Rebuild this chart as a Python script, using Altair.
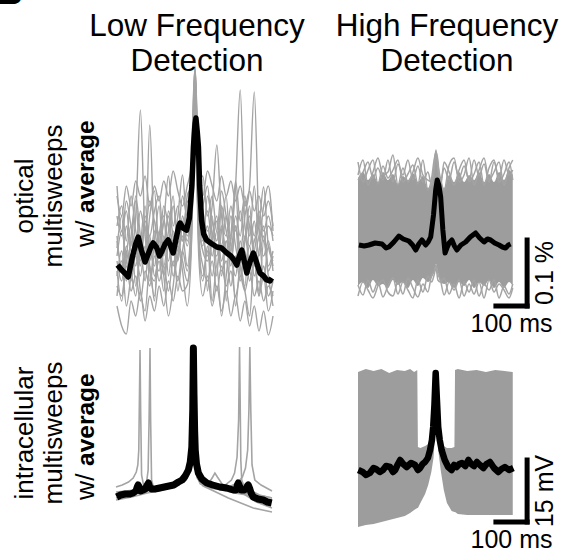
import altair as alt
import pandas as pd

# ---------------------------------------------------------------- data
# time axis of every panel in ms (spike-triggered, spike at 0)
# Optical, low-frequency detection: individual sweeps (dF/F, scaled units)
TL_T = [-250, -235, -220, -205, -190, -175, -160, -145, -130, -115, -100, -85, -70, -55, -40, -25,
        -12, -5, 0, 5, 12,
        25, 40, 55, 70, 85, 100, 115, 130, 145, 160, 175, 190, 205, 220, 235, 250]
TL_SWEEPS = {
    "s1": [95, 70, 110, 85, 120, 226, 100, 75, 105, 80, 115, 95, 130, 100, 140, 120,
           150, 210, 262, 215, 140,
           110, 125, 95, 115, 90, 120, 100, 150, 246, 110, 90, 115, 80, 100, 70, 85],
    "s2": [60, 85, 55, 95, 70, 100, 80, 211, 90, 65, 100, 75, 105, 85, 115, 95,
           140, 228, 270, 222, 135,
           95, 110, 80, 105, 75, 95, 70, 110, 85, 120, 150, 244, 110, 80, 95, 65],
    "s3": [120, 100, 135, 110, 90, 125, 105, 135, 115, 95, 130, 110, 95, 120, 161, 110,
           160, 240, 268, 235, 150,
           125, 105, 130, 191, 120, 100, 130, 105, 125, 95, 120, 100, 125, 105, 120, 95],
    "s4": [30, 10, 2, 35, 20, 45, 15, 40, 25, 50, 30, 55, 35, 60, 45, 51,
           90, 170, 240, 175, 80,
           40, 60, 30, 50, 25, 45, 20, 40, 15, 35, 10, 30, 5, 25, 1, 20],
    "s5": [80, 105, 75, 60, 95, 70, 120, 90, 70, 105, 80, 125, 100, 75, 110, 90,
           130, 200, 250, 200, 120,
           130, 150, 100, 80, 110, 85, 120, 90, 70, 100, 75, 95, 110, 149, 90, 75],
    "s6": [50, 40, 70, 45, 60, 35, 65, 50, 80, 55, 70, 45, 75, 55, 85, 65,
           110, 190, 255, 190, 100,
           70, 55, 75, 45, 70, 50, 65, 40, 60, 45, 65, 40, 55, 35, 50, 40],
    "s7": [140, 120, 150, 130, 155, 140, 160, 130, 150, 135, 155, 140, 165, 145, 130, 150,
           170, 235, 266, 230, 160,
           140, 165, 150, 135, 160, 140, 155, 135, 150, 130, 145, 125, 140, 120, 135, 110],
    "s8": [100, 65, 85, 55, 80, 60, 90, 65, 55, 85, 60, 90, 70, 95, 75, 55,
           100, 180, 245, 185, 95,
           60, 85, 60, 90, 65, 75, 50, 80, 55, 85, 55, 75, 45, 70, 40, 55],
    "s9": [110, 130, 95, 140, 105, 85, 115, 100, 125, 140, 95, 120, 85, 110, 95, 135,
           125, 205, 258, 210, 130,
           90, 140, 115, 95, 130, 105, 85, 120, 100, 135, 110, 85, 120, 95, 110, 100],
    "s10": [75, 55, 90, 65, 40, 85, 55, 100, 60, 75, 45, 90, 60, 80, 100, 70,
            120, 195, 252, 200, 110,
            85, 75, 100, 120, 60, 95, 80, 60, 95, 70, 90, 60, 85, 110, 65, 80],
    "s11": [88, 120, 60, 100, 135, 75, 110, 55, 95, 130, 70, 105, 140, 80, 120, 100,
            135, 215, 265, 215, 125,
            100, 80, 120, 70, 105, 140, 75, 110, 60, 95, 130, 70, 100, 55, 90, 70],
    "s12": [65, 35, 80, 110, 50, 90, 130, 70, 40, 100, 120, 60, 95, 45, 85, 110,
            115, 190, 248, 195, 105,
            120, 45, 95, 60, 130, 35, 100, 145, 70, 50, 110, 85, 40, 95, 60, 30],
    "s13": [150, 105, 125, 90, 140, 100, 75, 120, 145, 90, 115, 160, 110, 130, 95, 140,
            150, 220, 262, 225, 155,
            160, 120, 140, 105, 145, 120, 95, 155, 115, 140, 100, 150, 95, 130, 150, 105],
    "s14": [40, 75, 30, 60, 85, 45, 25, 70, 35, 95, 60, 20, 50, 90, 65, 30,
            85, 175, 238, 180, 90,
            55, 90, 35, 70, 20, 60, 95, 30, 70, 45, 20, 75, 40, 60, 25, 45],
}
TL_AVG_T = [-248, -235, -222, -214, -200, -190, -182, -172, -160, -150, -140, -134, -122, -114, -107,
            -96, -86, -78, -70, -60, -52, -48, -38, -27, -18, -10, -5, 0, 3, 7, 11, 15, 21, 28,
            37, 50, 70, 85, 102, 115, 125, 134, 142, 150, 158, 166, 176, 187, 196, 208, 220,
            230, 240, 246]
TL_AVG_V = [71, 66, 62, 59, 80, 92, 99, 86, 74, 82, 90, 93, 88, 80, 84,
            92, 96, 90, 83, 98, 110, 113, 108, 106, 118, 150, 189, 212, 218, 205, 189, 150, 116, 102,
            96, 93, 89, 88, 83, 80, 76, 71, 80, 86, 75, 63, 74, 83, 75, 63, 60,
            56, 55, 58]

# Optical, high-frequency detection: envelope of all sweeps, edge sweeps, average
TR_T = [-250, -234, -218, -202, -186, -170, -154, -138, -122, -106, -90, -74, -58, -42, -26, -14,
        -6, 0, 6, 14, 26, 42, 58, 74, 90, 106, 122, 138, 154, 170, 186, 202, 218, 234, 246]
TR_HI = [122, 128, 120, 126, 118, 128, 120, 126, 116, 124, 120, 127, 118, 124, 112, 120,
         135, 145, 135, 118, 112, 125, 118, 128, 118, 125, 120, 128, 118, 126, 118, 128, 120, 130, 125]
TR_LO = [14, 18, 12, 20, 14, 16, 12, 20, 15, 18, 12, 20, 14, 22, 18, 22,
         28, 36, 28, 18, 16, 18, 12, 18, 14, 20, 12, 18, 14, 20, 12, 18, 12, 18, 14]
TR_EDGE_SWEEPS = {
    "u1": [120, 128, 138, 122, 132, 120, 140, 118, 136, 125, 140, 120, 134, 118, 128, 115,
           135, 150, 130, 118, 132, 120, 138, 122, 134, 120, 140, 124, 136, 118, 138, 122, 140, 125, 130],
    "u2": [138, 118, 130, 140, 116, 134, 122, 130, 140, 118, 126, 135, 116, 140, 110, 122,
           140, 148, 140, 112, 138, 128, 115, 130, 140, 118, 126, 138, 115, 132, 140, 118, 126, 138, 120],
    "u3": [125, 140, 115, 128, 142, 125, 128, 145, 115, 132, 118, 128, 142, 125, 120, 118,
           130, 146, 135, 122, 110, 135, 142, 118, 125, 142, 115, 130, 142, 120, 128, 138, 115, 132, 140],
    "d1": [15, 5, 20, 8, 18, 3, 14, 22, 6, 18, 10, 2, 20, 8, 24, 18,
           25, 32, 20, 18, 22, 6, 16, 2, 18, 8, 20, 4, 16, 10, 20, 2, 14, 6, 16],
    "d2": [4, 18, 10, 2, 14, 20, 8, 4, 18, 6, 22, 12, 3, 16, 8, 25,
           28, 35, 26, 20, 5, 18, 10, 20, 4, 16, 6, 18, 2, 20, 8, 16, 10, 2, 12],
}
TR_AVG_T = [-247, -230, -215, -195, -173, -160, -151, -135, -119, -105, -87, -75, -65, -55, -45,
            -33, -25, -17, -8, -1, 4, 9, 15, 22, 29, 35, 42, 51, 59, 67, 80, 95, 110, 127, 140,
            154, 165, 175, 188, 202, 213, 223, 232, 239]
TR_AVG_V = [55, 54, 55, 57, 56, 52, 53, 58, 64, 61, 59, 55, 50, 56, 60,
            55, 58, 63, 85, 110, 120, 115, 103, 70, 47, 52, 57, 60, 54, 50, 55, 58, 63, 67, 62,
            58, 61, 60, 57, 55, 53, 52, 55, 56]

# Intracellular, low-frequency detection: a few sweeps (mV, scaled units) + average
BL_SWEEPS = {
    "a": ([-250, -230, -210, -195, -185, -180, -177, -175, -173, -171, -168, -160, -140, -120, -100,
           -80, -60, -40, -20, -10, -5, -2, 0, 3, 8, 15, 30, 60, 100, 140, 180, 220, 250],
          [33, 35, 38, 42, 48, 55, 70, 120, 170, 110, 45, 32, 30, 31, 32,
           33, 35, 38, 45, 55, 70, 110, 165, 80, 50, 40, 34, 32, 30, 28, 26, 24, 22]),
    "b": ([-250, -220, -190, -170, -160, -152, -147, -144, -141, -139, -136, -130, -110, -80, -50,
           -25, -10, -4, -2, 0, 3, 8, 20, 50, 90, 130, 170, 210, 250],
          [28, 29, 30, 31, 33, 38, 50, 100, 172, 100, 40, 33, 32, 33, 35,
           40, 55, 100, 165, 110, 60, 45, 36, 32, 30, 27, 25, 22, 20]),
    "c": ([-250, -200, -150, -100, -50, -20, -8, -3, -1, 1, 4, 10, 30, 70, 100, 120, 130, 138,
           143, 146, 148, 150, 153, 160, 180, 210, 250],
          [25, 28, 31, 33, 37, 48, 70, 140, 170, 100, 60, 44, 36, 33, 35, 40, 47, 63,
           100, 173, 120, 60, 40, 34, 30, 25, 22]),
    "d": ([-250, -200, -150, -100, -50, -20, -8, -3, -1, 1, 4, 10, 30, 70, 110, 140, 155, 165,
           172, 176, 179, 182, 186, 195, 215, 250],
          [22, 26, 29, 32, 36, 47, 68, 135, 168, 95, 58, 43, 35, 32, 33, 37, 43, 52,
           70, 110, 173, 110, 55, 40, 35, 29]),
    "e": ([-250, -200, -150, -100, -50, -20, -8, -3, -1, 1, 4, 10, 30, 50, 60, 67, 75, 90, 120,
           160, 200, 250],
          [26, 28, 30, 33, 38, 48, 68, 130, 165, 95, 58, 45, 38, 38, 43, 47, 43, 36, 31,
           26, 18, 12]),
    "f": ([-250, -200, -150, -100, -50, -20, -8, -3, -1, 1, 4, 10, 30, 70, 110, 150, 190, 220, 250],
          [20, 23, 27, 30, 35, 46, 66, 130, 160, 90, 55, 42, 34, 28, 22, 17, 12, 10, 8]),
}
BL_AVG_T = [-248, -235, -220, -205, -195, -186, -182, -179, -175, -171, -163, -156, -150, -146, -142,
            -136, -125, -110, -95, -80, -65, -50, -38, -28, -18, -12, -7, -4, -2, 0, 2, 4, 8, 14,
            25, 41, 60, 83, 105, 126, 135, 139, 142, 146, 151, 160, 167, 171, 174, 178, 183, 190,
            205, 222, 235, 249]
BL_AVG_V = [23, 25, 26, 26, 27, 29, 33, 35, 33, 29, 30, 31, 35, 37, 33,
            31, 31, 32, 33, 34, 35, 38, 40, 44, 50, 58, 73, 110, 172, 125, 90, 70, 56, 47,
            41, 37, 35, 33, 32, 30, 30, 35, 37, 34, 30, 30, 31, 34, 35, 32, 27, 23,
            21, 20, 18, 17]

# Intracellular, high-frequency detection: envelope of all sweeps + average
BR_T = [-250, -225, -200, -175, -150, -125, -100, -83, -70, -60, -58, -50, -35, -25, -15, -8, -3,
        0, 3, 8, 15, 25, 35, 50, 59, 61, 70, 100, 130, 160, 190, 220, 246]
BR_HI = [158, 161, 159, 161, 157, 160, 159, 161, 158, 160, 83, 82, 84, 86, 92, 105, 130,
         158, 130, 105, 90, 84, 82, 82, 83, 160, 161, 159, 160, 158, 160, 159, 158]
BR_LO = [3, 5, 6, 8, 10, 12, 14, 17, 20, 22, 22, 27, 36, 45, 58, 72, 95,
         130, 100, 78, 60, 40, 27, 19, 18, 18, 16, 15, 15, 15, 15, 15, 15]
BR_AVG_T = [-249, -235, -224, -212, -200, -192, -180, -170, -160, -147, -138, -131, -122, -115, -105,
            -94, -80, -67, -58, -51, -43, -35, -26, -19, -13, -9, -5, -1, 3, 7, 12, 18, 28, 39,
            50, 58, 66, 75, 83, 94, 104, 113, 122, 131, 141, 152, 162, 173, 186, 200, 210, 221,
            234, 248]
BR_AVG_V = [60, 58, 55, 57, 62, 61, 58, 60, 64, 63, 58, 60, 66, 70, 66,
            63, 67, 65, 60, 62, 66, 68, 72, 80, 90, 103, 125, 157, 130, 103, 90, 80, 70, 63,
            60, 65, 63, 66, 67, 64, 70, 66, 64, 68, 65, 62, 66, 68, 62, 58, 61, 63,
            60, 62]

# scale bars
BAR_MS = 100
OPT_BAR = 66      # 0.1 % in optical units
EPHYS_BAR = 62    # 15 mV in intracellular units
BAR_LABELS = {"opt": "0.1 %", "ephys": "15 mV", "time": "100 ms"}

COL_TITLES = [["Low Frequency", "Detection"], ["High Frequency", "Detection"]]
ROW_LABELS = [["optical", "multisweeps"], ["intracellular", "multisweeps"]]

# ---------------------------------------------------------------- layout / style
GRAY = "#a4a4a4"
GRAY_FILL = "#9d9d9d"
FONT = "Liberation Sans"
PANELS = {  # x range, y domain, y range in pixels
    "TL": dict(xr=[117, 273], yd=[0, 271], yr=[336, 65]),
    "TR": dict(xr=[358, 514], yd=[0, 160], yr=[300, 140]),
    "BL": dict(xr=[116, 272], yd=[0, 180], yr=[520, 340]),
    "BR": dict(xr=[358, 514], yd=[0, 170], yr=[530, 360]),
}
BAR_ANCHOR = {"TR": (192, -6), "BR": (192, 8)}


def X(p, field="t"):
    return alt.X(f"{field}:Q", axis=None,
                 scale=alt.Scale(domain=[-250, 250], range=PANELS[p]["xr"], nice=False, zero=False))


def Y(p, field="v"):
    return alt.Y(f"{field}:Q", axis=None,
                 scale=alt.Scale(domain=PANELS[p]["yd"], range=PANELS[p]["yr"], nice=False, zero=False))


layers = []

# TL
tl_rows = [{"t": t, "v": v, "sweep": k} for k, vals in TL_SWEEPS.items() for t, v in zip(TL_T, vals)]
layers.append(alt.Chart(pd.DataFrame(tl_rows)).mark_line(
    color=GRAY, strokeWidth=1.4, interpolate="monotone").encode(
    x=X("TL"), y=Y("TL"), detail="sweep:N"))
layers.append(alt.Chart(pd.DataFrame({"t": TL_AVG_T, "v": TL_AVG_V})).mark_line(
    color="black", strokeWidth=5.5, strokeJoin="round").encode(x=X("TL"), y=Y("TL")))

# TR
layers.append(alt.Chart(pd.DataFrame({"t": TR_T, "hi": TR_HI, "lo": TR_LO})).mark_area(
    color=GRAY_FILL, interpolate="monotone").encode(
    x=X("TR"), y=Y("TR", "hi"), y2="lo:Q"))
tr_rows = [{"t": t, "v": v, "sweep": k} for k, vals in TR_EDGE_SWEEPS.items() for t, v in zip(TR_T, vals)]
layers.append(alt.Chart(pd.DataFrame(tr_rows)).mark_line(
    color=GRAY, strokeWidth=1.5, interpolate="monotone").encode(
    x=X("TR"), y=Y("TR"), detail="sweep:N"))
layers.append(alt.Chart(pd.DataFrame({"t": TR_AVG_T, "v": TR_AVG_V})).mark_line(
    color="black", strokeWidth=5, strokeJoin="round").encode(x=X("TR"), y=Y("TR")))

# BL
bl_rows = [{"t": t, "v": v, "sweep": k} for k, (ts, vs) in BL_SWEEPS.items() for t, v in zip(ts, vs)]
layers.append(alt.Chart(pd.DataFrame(bl_rows)).mark_line(
    color=GRAY, strokeWidth=1.6).encode(x=X("BL"), y=Y("BL"), detail="sweep:N"))
layers.append(alt.Chart(pd.DataFrame({"t": BL_AVG_T, "v": BL_AVG_V})).mark_line(
    color="black", strokeWidth=7, strokeJoin="round").encode(x=X("BL"), y=Y("BL")))

# BR
layers.append(alt.Chart(pd.DataFrame({"t": BR_T, "hi": BR_HI, "lo": BR_LO})).mark_area(
    color=GRAY_FILL).encode(x=X("BR"), y=Y("BR", "hi"), y2="lo:Q"))
layers.append(alt.Chart(pd.DataFrame({"t": BR_AVG_T, "v": BR_AVG_V})).mark_line(
    color="black", strokeWidth=6.5, strokeJoin="round").encode(x=X("BR"), y=Y("BR")))

# scale bars
for p, vlen, lab in (("TR", OPT_BAR, BAR_LABELS["opt"]), ("BR", EPHYS_BAR, BAR_LABELS["ephys"])):
    t0, v0 = BAR_ANCHOR[p]
    bar = pd.DataFrame({"t": [t0, t0 + BAR_MS], "t2": [t0 + BAR_MS, t0 + BAR_MS],
                        "v": [v0, v0], "v2": [v0, v0 + vlen]})
    layers.append(alt.Chart(bar).mark_rule(color="black", strokeWidth=5, strokeCap="square").encode(
        x=X(p), x2="t2:Q", y=Y(p), y2="v2:Q"))
    tlab = pd.DataFrame({"t": [t0 + BAR_MS / 2], "v": [v0], "label": [BAR_LABELS["time"]]})
    layers.append(alt.Chart(tlab).mark_text(font=FONT, fontSize=25, align="center",
                                            baseline="alphabetic", dy=26).encode(
        x=X(p), y=Y(p), text="label:N"))
    vlab = pd.DataFrame({"t": [t0 + BAR_MS], "v": [v0 + vlen / 2], "label": [lab]})
    layers.append(alt.Chart(vlab).mark_text(font=FONT, fontSize=25, align="center", angle=270,
                                            baseline="alphabetic", dy=26).encode(
        x=X(p), y=Y(p), text="label:N"))


def label(text, x, y, **kw):
    style = dict(font=FONT, fontSize=31.5, align="center", baseline="alphabetic")
    style.update(kw)
    return alt.Chart(pd.DataFrame({"label": [text]})).mark_text(**style).encode(
        x=alt.value(x), y=alt.value(y), text="label:N")


# column titles
for (l1, l2), cx in zip(COL_TITLES, (197, 447)):
    layers.append(label(l1, cx, 36))
    layers.append(label(l2, cx, 71))

# row labels (rotated); third line "w/ average" starts at its bottom end
for (l1, l2), cy, start in zip(ROW_LABELS, (196, 433), (247, 500)):
    layers.append(label(l1, 33, cy, fontSize=26, angle=270))
    layers.append(label(l2, 62, cy, fontSize=26, angle=270))
    layers.append(label("w/", 94, start, fontSize=26.5, angle=270, align="left"))
    layers.append(label("average", 94, start - 34, fontSize=24.5, angle=270, align="left",
                        fontWeight="bold"))

# panel letter, cut by the top edge as in the source figure
layers.append(label("B", -3, 4, fontSize=36, align="left", fontWeight="bold"))

chart = alt.layer(*layers).resolve_scale(x="independent", y="independent").properties(
    width=563, height=552, autosize=alt.AutoSizeParams(type="none"), padding=0
).configure_view(stroke=None)

chart.save("out.html", embed_options={"renderer": "svg", "actions": False})
